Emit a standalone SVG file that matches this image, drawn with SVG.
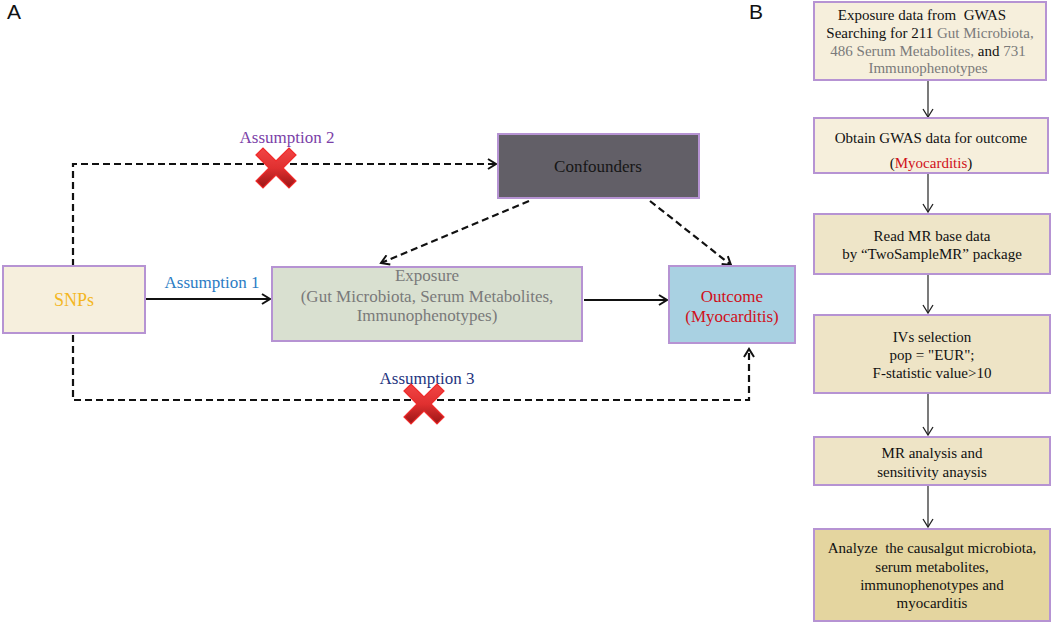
<svg xmlns="http://www.w3.org/2000/svg" width="1052" height="623" viewBox="0 0 1052 623">
<style>
text{font-family:"Liberation Serif","Times New Roman",serif;}
.lbl{font-family:"Liberation Sans",Arial,sans-serif;font-size:21px;fill:#111;}
.box{stroke:#b693d3;stroke-width:2;}
.t16{font-size:17px;text-anchor:middle;}
.t14{font-size:15px;text-anchor:middle;fill:#111;}
.dash{fill:none;stroke:#111;stroke-width:2.2;stroke-dasharray:7,4;}
.solid{fill:none;stroke:#111;stroke-width:2.2;}
.thin{fill:none;stroke:#222;stroke-width:1.2;}
.gray{fill:#7a7a7a;}
.red{fill:#d0101a;}
</style>
<defs>
<marker id="ah" viewBox="0 0 12 12" refX="10" refY="6" markerWidth="12" markerHeight="12" markerUnits="userSpaceOnUse" orient="auto">
<path d="M2,1 L10,6 L2,11" fill="none" stroke="#111" stroke-width="2"/>
</marker>
<marker id="ahs" viewBox="0 0 12 12" refX="10" refY="6" markerWidth="12" markerHeight="12" markerUnits="userSpaceOnUse" orient="auto">
<path d="M2,1 L10,6 L2,11" fill="none" stroke="#222" stroke-width="1.3"/>
</marker>
<linearGradient id="xg" x1="0" y1="0" x2="0" y2="1">
<stop offset="0" stop-color="#f24545"/>
<stop offset="0.5" stop-color="#e03030"/>
<stop offset="1" stop-color="#9a1515"/>
</linearGradient>
<polygon id="xmark" points="-20,-13 -13,-20 0,-7 13,-20 20,-13 7,0 20,13 13,20 0,7 -13,20 -20,13 -7,0" fill="url(#xg)" stroke="#f02a2a" stroke-width="1.2"/>
</defs>
<rect width="1052" height="623" fill="#fff"/>
<text class="lbl" x="7" y="19">A</text>
<text class="lbl" x="749" y="19">B</text>

<g id="connectors">
<path class="dash" d="M73,266 V164 H496" marker-end="url(#ah)"/>
<path class="dash" d="M73,335 V400 H749 V349" marker-end="url(#ah)"/>
<path class="solid" d="M145,299 H270" marker-end="url(#ah)"/>
<path class="solid" d="M584,300 H667" marker-end="url(#ah)"/>
<path class="dash" d="M529,201 L381,263" marker-end="url(#ah)"/>
<path class="dash" d="M650,201 L731,265" marker-end="url(#ah)"/>
<path class="thin" d="M928,80 V117" marker-end="url(#ahs)"/>
<path class="thin" d="M928,173 V212" marker-end="url(#ahs)"/>
<path class="thin" d="M928,274 V313" marker-end="url(#ahs)"/>
<path class="thin" d="M928,393 V435" marker-end="url(#ahs)"/>
<path class="thin" d="M928,485 V527" marker-end="url(#ahs)"/>
</g>

<g id="assumption2">
<text class="t16" x="287" y="143" fill="#7b3fa8">Assumption 2</text>
<use href="#xmark" x="276" y="168"/>
</g>
<g id="assumption1">
<text class="t16" x="212" y="288" fill="#2b7cc4">Assumption 1</text>
</g>
<g id="assumption3">
<text class="t16" x="427" y="384" fill="#1f3580">Assumption 3</text>
<use href="#xmark" x="424" y="404"/>
</g>

<g id="snps">
<rect class="box" x="3" y="266" width="142" height="67" fill="#f6efdd"/>
<text class="t16" x="74" y="306" fill="#f4b724" style="font-size:18px">SNPs</text>
</g>
<g id="exposure">
<rect class="box" x="272" y="267" width="310" height="74" fill="#d9e0d0"/>
<text class="t16 gray" x="427" y="281">Exposure</text>
<text class="t16 gray" x="427" y="302">(Gut Microbiota, Serum Metabolites,</text>
<text class="t16 gray" x="427" y="321">Immunophenotypes)</text>
</g>
<g id="confounders">
<rect class="box" x="498" y="134" width="201" height="64" fill="#625f67"/>
<text class="t16" x="598" y="172" fill="#161616">Confounders</text>
</g>
<g id="outcome">
<rect class="box" x="669" y="266" width="126" height="77" fill="#a9d1e2"/>
<text class="t16 red" x="732" y="302">Outcome</text>
<text class="t16 red" x="732" y="322">(Myocarditis)</text>
</g>

<g id="b1">
<rect class="box" x="814" y="2" width="232" height="78" fill="#f6efdc"/>
<text class="t14" x="922" y="20" xml:space="preserve">Exposure data from  GWAS</text>
<text class="t14" x="930" y="38">Searching for 211 <tspan class="gray">Gut Microbiota,</tspan></text>
<text class="t14 gray" x="928" y="56">486 Serum Metabolites, <tspan fill="#111">and</tspan> 731</text>
<text class="t14 gray" x="928" y="73">Immunophenotypes</text>
</g>
<g id="b2">
<rect class="box" x="814" y="118" width="234" height="55" fill="#f6efdc"/>
<text class="t14" x="931" y="143">Obtain GWAS data for outcome</text>
<text class="t14" x="931" y="168">(<tspan class="red">Myocarditis</tspan>)</text>
</g>
<g id="b3">
<rect class="box" x="814" y="214" width="236" height="60" fill="#eee5c8"/>
<text class="t14" x="932" y="241">Read MR base data</text>
<text class="t14" x="932" y="259">by “TwoSampleMR” package</text>
</g>
<g id="b4">
<rect class="box" x="814" y="315" width="236" height="78" fill="#eee4c6"/>
<text class="t14" x="932" y="342">IVs selection</text>
<text class="t14" x="932" y="360">pop = "EUR";</text>
<text class="t14" x="932" y="378">F-statistic value&gt;10</text>
</g>
<g id="b5">
<rect class="box" x="814" y="437" width="236" height="48" fill="#eee4c6"/>
<text class="t14" x="932" y="458">MR analysis and</text>
<text class="t14" x="932" y="477">sensitivity anaysis</text>
</g>
<g id="b6">
<rect class="box" x="814" y="529" width="236" height="92" fill="#e4d59f"/>
<text class="t14" x="932" y="553" xml:space="preserve">Analyze  the causalgut microbiota,</text>
<text class="t14" x="932" y="572">serum metabolites,</text>
<text class="t14" x="932" y="590">immunophenotypes and</text>
<text class="t14" x="932" y="608">myocarditis</text>
</g>
</svg>
